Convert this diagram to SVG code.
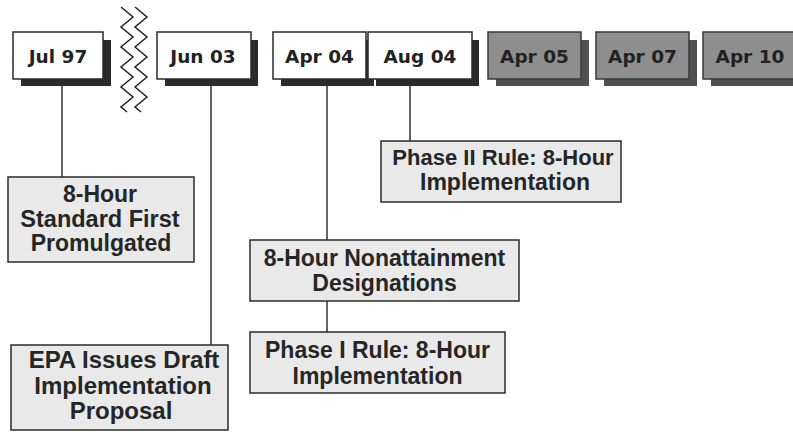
<svg xmlns="http://www.w3.org/2000/svg" width="793" height="432" viewBox="0 0 793 432">
<style>
.sh{fill:#2b2b2b}
.shg{fill:#505050}
.bx{fill:#ffffff;stroke:#2b2b2b;stroke-width:1.5}
.bg{fill:#8e8e8e;stroke:#3a3a3a;stroke-width:1.5}
.bl{fill:#e9e9e9;stroke:#2b2b2b;stroke-width:1.5}
.dt{font-family:"DejaVu Sans",Verdana,sans-serif;font-weight:bold;font-size:18.5px;fill:#222;text-anchor:middle}
.lt{font-family:"Liberation Sans",Arial,sans-serif;font-weight:bold;font-size:23px;fill:#262626;text-anchor:middle}
.cn{stroke:#333;stroke-width:1.5;fill:none}
.zz{stroke:#222;stroke-width:1.5;fill:none}
</style>
<rect width="793" height="432" fill="#ffffff"/>
<g id="connectors">
<line class="cn" x1="62" y1="80" x2="62" y2="177"/>
<line class="cn" x1="211" y1="80" x2="211" y2="345"/>
<line class="cn" x1="327" y1="80" x2="327" y2="240"/>
<line class="cn" x1="327" y1="301" x2="327" y2="332"/>
<line class="cn" x1="410" y1="80" x2="410" y2="141"/>
</g>
<g id="break">
<polyline class="zz" points="121,7 133,17 121,27 133,37 121,47 133,57 121,67 133,77 121,87 133,97 121,107 127,112"/>
<polyline class="zz" points="135,7 147,17 135,27 147,37 135,47 147,57 135,67 147,77 135,87 147,97 135,107 141,112"/>
</g>
<g id="shadows">
<rect class="sh" x="21" y="40" width="90" height="46"/>
<rect class="sh" x="165" y="40" width="93" height="46"/>
<rect class="sh" x="281" y="40" width="93" height="46"/>
<rect class="sh" x="376" y="40" width="103" height="46"/>
<rect class="shg" x="496" y="40" width="93" height="46"/>
<rect class="shg" x="604" y="40" width="93" height="46"/>
<rect class="shg" x="711" y="40" width="93" height="46"/>
</g>
<g id="jul97"><rect class="bx" x="13" y="32" width="90" height="47"/><text class="dt" x="58" y="63">Jul 97</text></g>
<g id="jun03"><rect class="bx" x="157" y="32" width="94" height="47"/><text class="dt" x="203" y="63">Jun 03</text></g>
<g id="apr04"><rect class="bx" x="273" y="32" width="93" height="47"/><text class="dt" x="319.5" y="63">Apr 04</text></g>
<g id="aug04"><rect class="bx" x="368" y="32" width="104" height="47"/><text class="dt" x="420" y="63">Aug 04</text></g>
<g id="apr05"><rect class="bg" x="488" y="32" width="93" height="47"/><text class="dt" x="534.5" y="63">Apr 05</text></g>
<g id="apr07"><rect class="bg" x="596" y="32" width="93" height="47"/><text class="dt" x="642.5" y="63">Apr 07</text></g>
<g id="apr10"><rect class="bg" x="703" y="32" width="94" height="47"/><text class="dt" x="750" y="63">Apr 10</text></g>
<g id="standard">
<rect class="bl" x="8" y="177" width="186" height="85"/>
<text class="lt" x="100" y="202">8-Hour</text>
<text class="lt" x="100" y="227" style="font-size:23.5px">Standard First</text>
<text class="lt" x="101" y="251">Promulgated</text>
</g>
<g id="epa">
<rect class="bl" x="11" y="345" width="217" height="85"/>
<text class="lt" x="124" y="368" style="font-size:24px">EPA Issues Draft</text>
<text class="lt" x="123" y="394" style="font-size:24px">Implementation</text>
<text class="lt" x="121" y="419" style="font-size:24px">Proposal</text>
</g>
<g id="phase2">
<rect class="bl" x="381" y="141" width="240" height="61"/>
<text class="lt" x="503" y="165" style="font-size:22px">Phase II Rule: 8-Hour</text>
<text class="lt" x="505" y="190">Implementation</text>
</g>
<g id="nonattainment">
<rect class="bl" x="250" y="240" width="269" height="61"/>
<text class="lt" x="384.5" y="266">8-Hour Nonattainment</text>
<text class="lt" x="384.5" y="291">Designations</text>
</g>
<g id="phase1">
<rect class="bl" x="250" y="332" width="255" height="61"/>
<text class="lt" x="377.5" y="358">Phase I Rule: 8-Hour</text>
<text class="lt" x="377.5" y="384">Implementation</text>
</g>
</svg>
